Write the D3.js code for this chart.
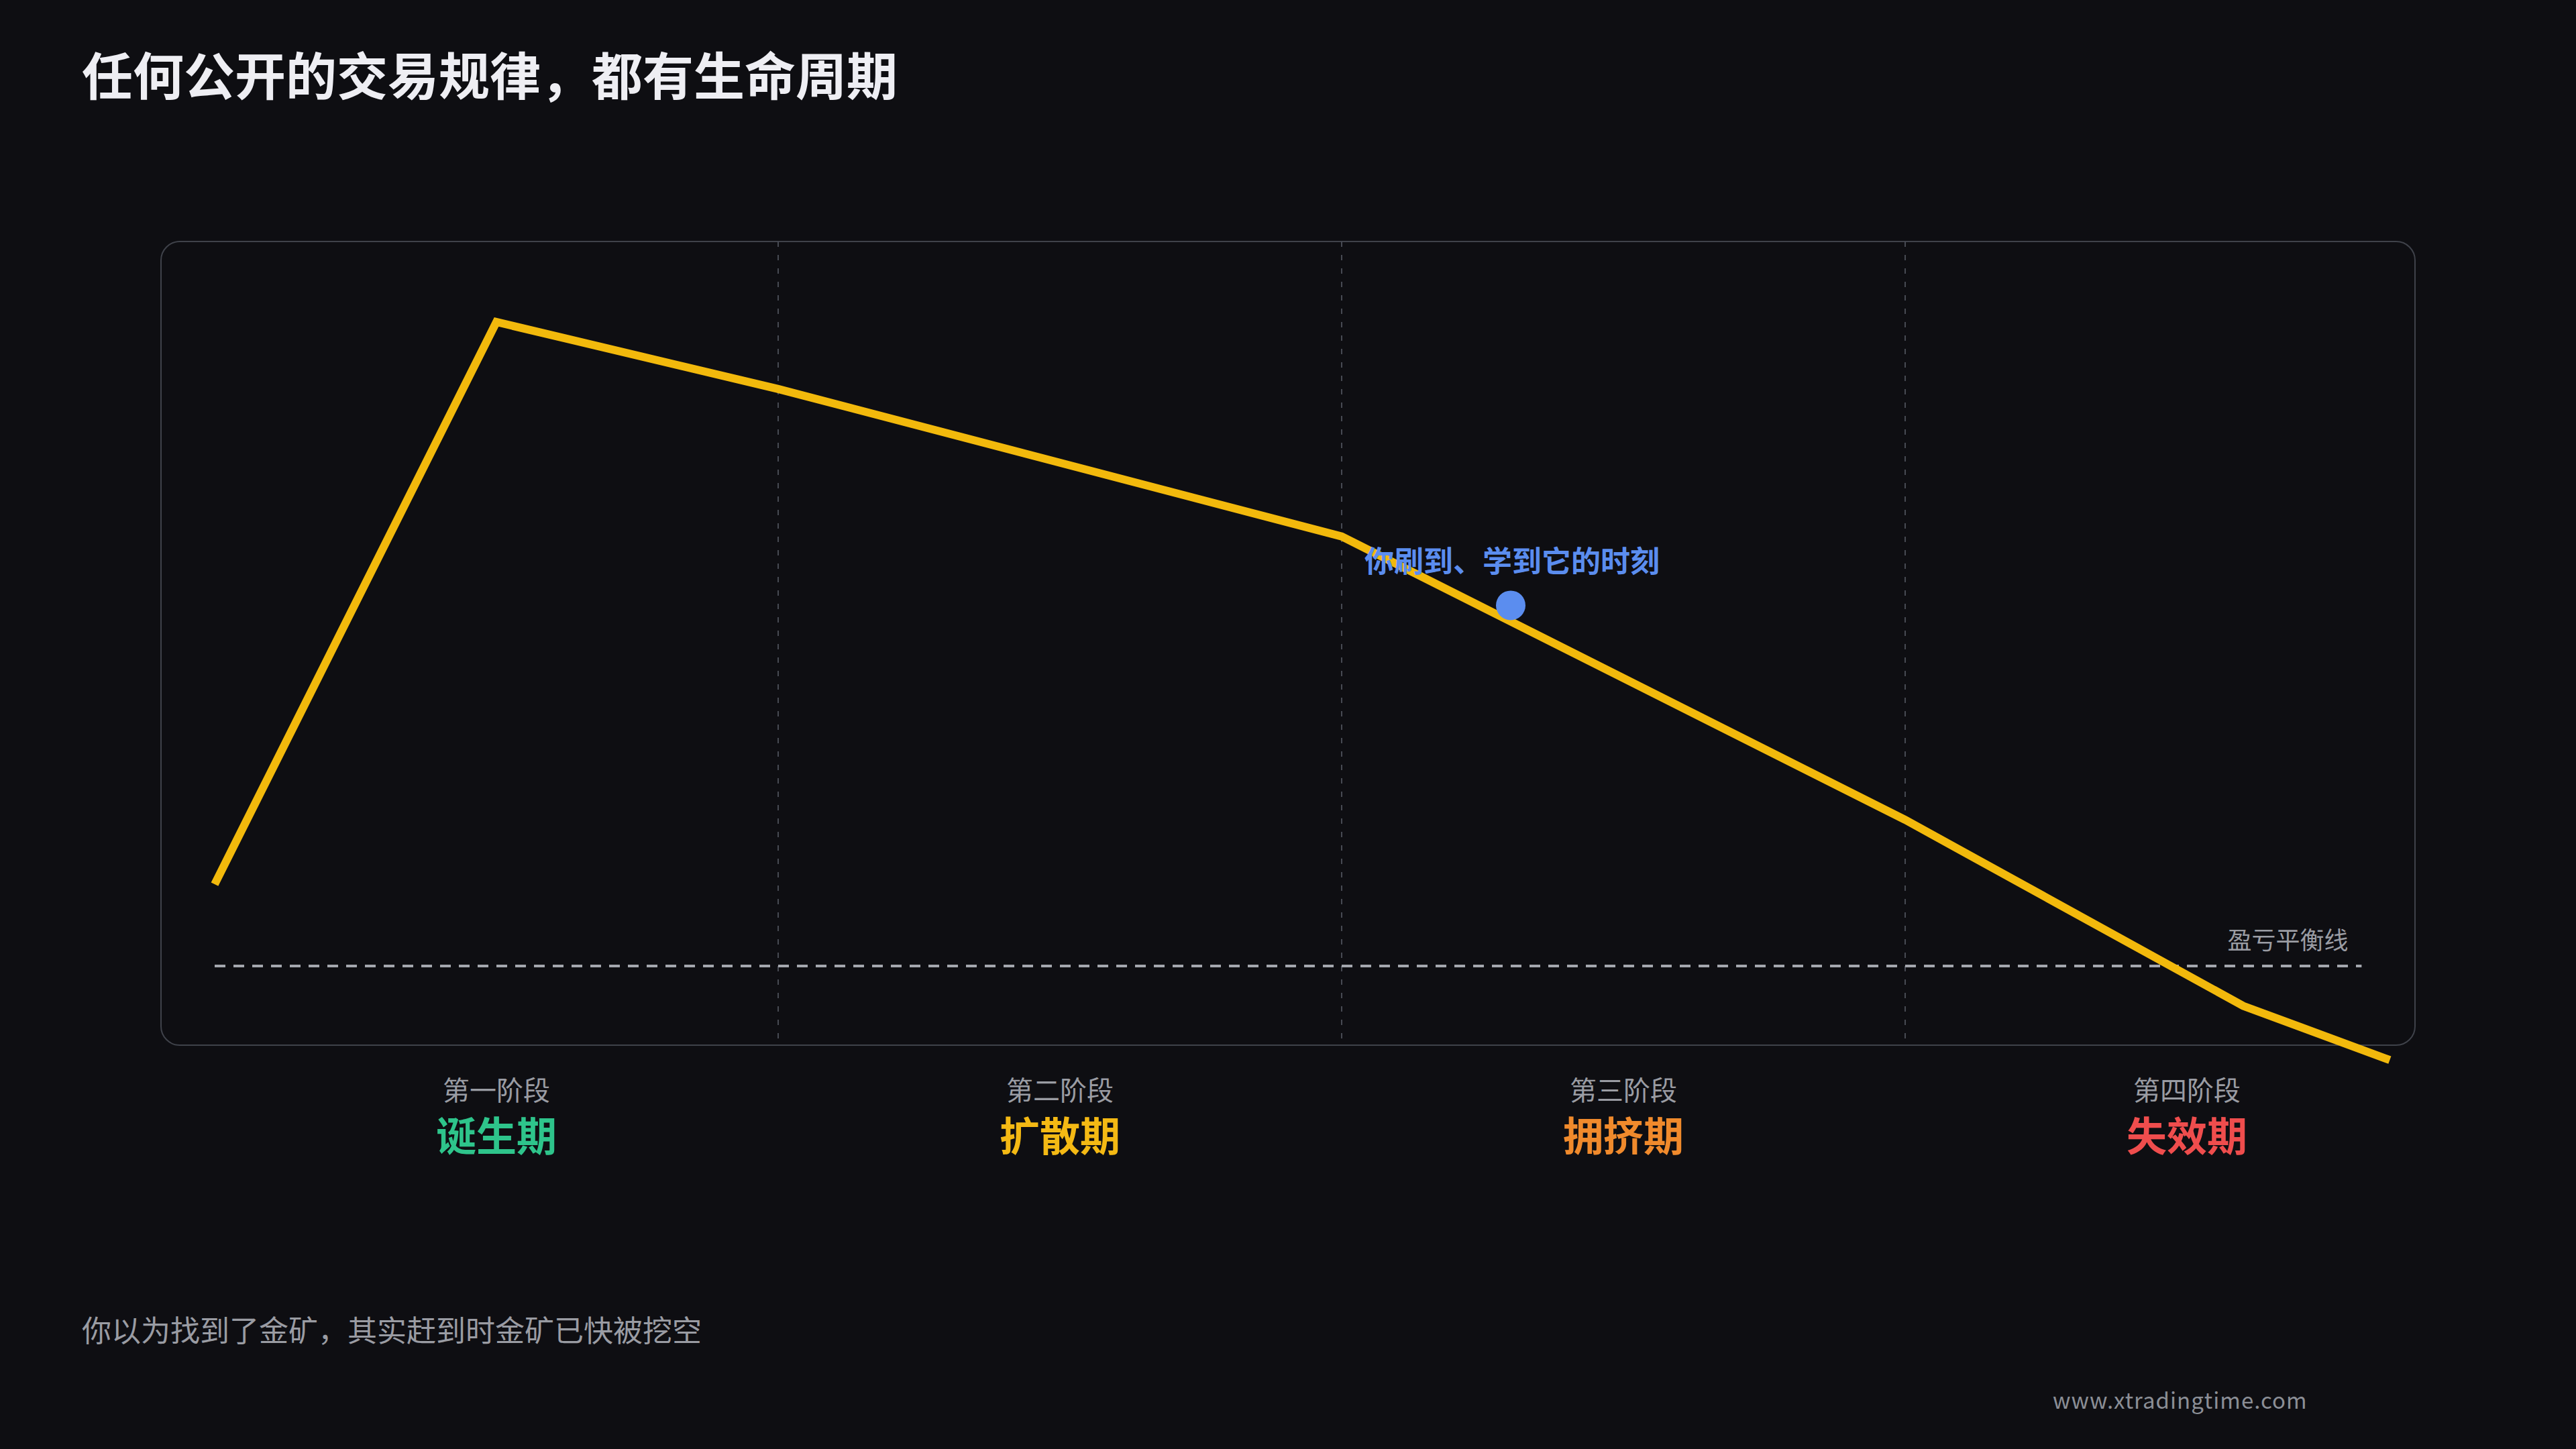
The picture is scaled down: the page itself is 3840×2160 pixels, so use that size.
<!DOCTYPE html>
<html><head><meta charset="utf-8">
<script src="https://cdn.jsdelivr.net/npm/d3@7/dist/d3.min.js"></script>
<style>
html,body{margin:0;padding:0;background:#0e0e12;}
svg{display:block;}
text{font-family:"Noto Sans CJK SC","Noto Sans",sans-serif;}
</style></head>
<body>
<script>
// ---- data ----
const title = "任何公开的交易规律，都有生命周期";
const stageNames = ["第一阶段", "第二阶段", "第三阶段", "第四阶段"];
const stagePhases = ["诞生期", "扩散期", "拥挤期", "失效期"];
const stageColors = ["#2ec48b", "#f4b914", "#f08a2c", "#ef4d4d"];
const lineX = [0, 0.5, 1, 2, 3, 3.6, 3.86];          // position along lifecycle (stage units)
const lineY = [12.7, 100, 89.6, 66.7, 22.7, -6.2, -14.6]; // relative return
const markerX = 2.3, markerY = 56;
const markerLabel = "你刷到、学到它的时刻";
const breakevenValue = 0, breakevenEnd = 3.81;
const breakevenLabel = "盈亏平衡线";
const footnote = "你以为找到了金矿，其实赶到时金矿已快被挖空";
const site = "www.xtradingtime.com";

const W = 3840, H = 2160;
const svg = d3.select("body").append("svg").attr("width", W).attr("height", H);
svg.append("rect").attr("width", W).attr("height", H).attr("fill", "#0e0e12");

const x = d3.scaleLinear().domain([0, 4]).range([320, 3680]);
const y = d3.scaleLinear().domain([0, 100]).range([1440, 480]);

// title
svg.append("text").attr("x", 122).attr("y", 142).attr("fill", "#eeeef3")
  .attr("font-size", 76).attr("font-weight", 700).text(title);

// card
const card = {x: 240, y: 360, w: 3360, h: 1198};
svg.append("rect").attr("x", card.x).attr("y", card.y).attr("width", card.w).attr("height", card.h)
  .attr("rx", 28).attr("fill", "#0e0e12").attr("stroke", "#3f424a").attr("stroke-width", 2);

// stage dividers
svg.append("g").selectAll("line").data([1, 2, 3]).join("line")
  .attr("x1", d => x(d)).attr("x2", d => x(d))
  .attr("y1", card.y).attr("y2", card.y + card.h)
  .attr("stroke", "#474a53").attr("stroke-width", 2).attr("stroke-dasharray", "8 12");

// breakeven line
svg.append("line").attr("x1", x(0)).attr("x2", x(breakevenEnd))
  .attr("y1", y(breakevenValue)).attr("y2", y(breakevenValue))
  .attr("stroke", "#a4a7ae").attr("stroke-width", 4).attr("stroke-dasharray", "16 12");
svg.append("text").attr("x", x(breakevenEnd) - 20).attr("y", y(breakevenValue) - 25)
  .attr("text-anchor", "end").attr("fill", "#9a9ca3").attr("font-size", 36).text(breakevenLabel);

// lifecycle line
const pts = lineX.map((d, i) => [d, lineY[i]]);
svg.append("path").datum(pts)
  .attr("d", d3.line().x(d => x(d[0])).y(d => y(d[1])))
  .attr("fill", "none").attr("stroke", "#f2b90c").attr("stroke-width", 12)
  .attr("stroke-linejoin", "miter").attr("stroke-linecap", "butt");

// marker
svg.append("circle").attr("cx", x(markerX)).attr("cy", y(markerY)).attr("r", 22).attr("fill", "#5b8def");
svg.append("text").attr("x", x(markerX) - 218).attr("y", y(markerY) - 49)
  .attr("fill", "#5b8def").attr("font-size", 44).attr("font-weight", 700).text(markerLabel);

// stage labels
const st = svg.append("g").selectAll("g").data(stageNames).join("g");
st.append("text").attr("x", (d, i) => x(i + 0.5)).attr("y", 1640).attr("text-anchor", "middle")
  .attr("fill", "#9a9ca3").attr("font-size", 40).text(d => d);
st.append("text").attr("x", (d, i) => x(i + 0.5)).attr("y", 1716).attr("text-anchor", "middle")
  .attr("fill", (d, i) => stageColors[i]).attr("font-size", 60).attr("font-weight", 700)
  .text((d, i) => stagePhases[i]);

// footnote
svg.append("text").attr("x", 122).attr("y", 2000).attr("fill", "#9a9ca3")
  .attr("font-size", 44).text(footnote);
svg.append("text").attr("x", 3060).attr("y", 2100).attr("fill", "#8b8e96")
  .attr("font-size", 33).attr("letter-spacing", 1).attr("font-family", "'Noto Sans',sans-serif").text(site);
</script>
</body></html>
